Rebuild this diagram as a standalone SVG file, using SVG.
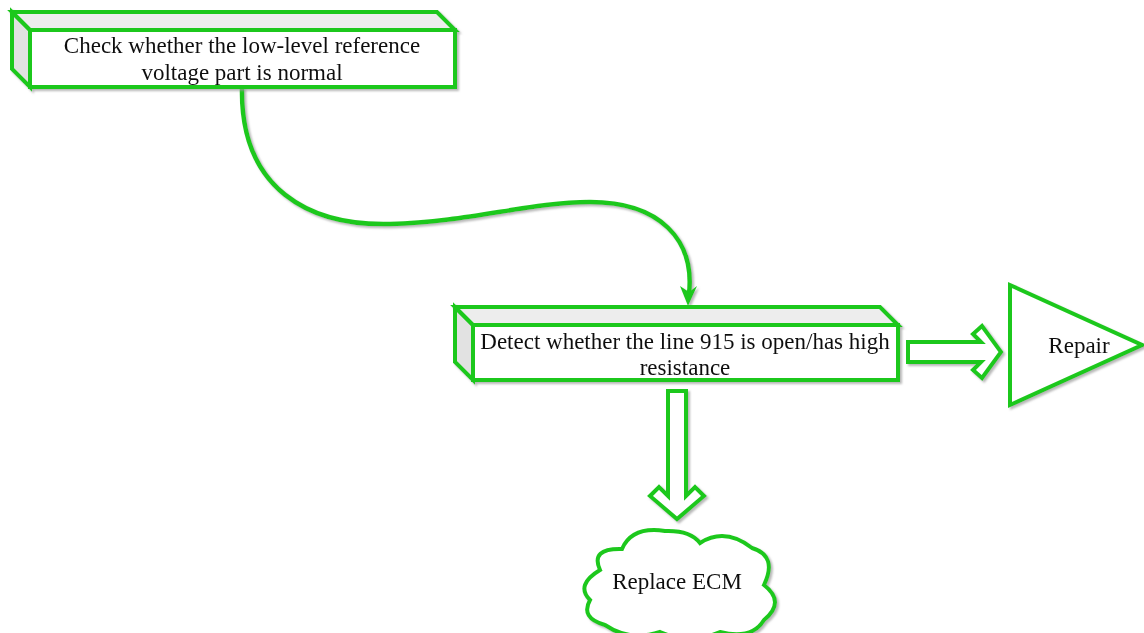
<svg xmlns="http://www.w3.org/2000/svg" width="1144" height="633" viewBox="0 0 1144 633">
<style>
.g{fill:none;stroke:#1fc81f;stroke-width:4.5;stroke-linejoin:miter}
.w{fill:#ffffff;stroke:#1fc81f;stroke-width:4;stroke-linejoin:miter}
.top{fill:#ededed;stroke:#1fc81f;stroke-width:4;stroke-linejoin:miter}
.side{fill:#e2e2e2;stroke:#1fc81f;stroke-width:4;stroke-linejoin:miter}
.t{font-family:"Liberation Serif","Times New Roman",serif;font-size:23px;fill:#111;text-anchor:middle}
</style>
<defs>
<filter id="sh" x="-10%" y="-10%" width="130%" height="130%">
<feGaussianBlur in="SourceAlpha" stdDeviation="1.2" result="b"/>
<feOffset in="b" dx="2" dy="2" result="o"/>
<feFlood flood-color="#999999" flood-opacity="0.7"/>
<feComposite in2="o" operator="in" result="s"/>
<feMerge><feMergeNode in="s"/><feMergeNode in="SourceGraphic"/></feMerge>
</filter>
</defs>

<g id="connectors" filter="url(#sh)">
<path class="g" d="M242,87 C240,190 310,226 390,224 C470,222 530,202 590,202 C660,202 695,240 689,294"/>
<path d="M680,286 L688,306 L697,286 L689,292 Z" fill="#1fc81f"/>
<polygon class="w" points="908,342 981,342 973,334 982,326 1001,352 982,378 973,370 981,362 908,362"/>
<polygon class="w" points="668,391 686,391 686,496 695,487 704,496 677,519 650,496 659,487 668,496"/>
</g>

<g id="node-check" filter="url(#sh)">
<polygon class="side" points="12,12 30,30 30,87 12,69"/>
<polygon class="top" points="12,12 437,12 455,30 30,30"/>
<rect class="w" x="30" y="30" width="425" height="57"/>
<text class="t" x="242" y="53">Check whether the low-level reference</text>
<text class="t" x="242" y="80">voltage part is normal</text>
</g>

<g id="node-detect" filter="url(#sh)">
<polygon class="side" points="455,307 473,325 473,380 455,362"/>
<polygon class="top" points="455,307 880,307 898,325 473,325"/>
<rect class="w" x="473" y="325" width="425" height="55"/>
<text class="t" x="685" y="349">Detect whether the line 915 is open/has high</text>
<text class="t" x="685" y="375">resistance</text>
</g>

<g id="node-repair" filter="url(#sh)">
<polygon class="w" points="1010,285 1142,345 1010,405"/>
<text class="t" x="1079" y="353">Repair</text>
</g>

<g id="node-ecm" filter="url(#sh)">
<path class="w" d="M600,570 Q590,548 622,549 Q632,526 665,531 Q690,530 700,543 Q725,527 752,548 Q778,556 764,585 Q786,602 764,620 Q752,640 720,632 Q690,645 660,632 Q630,642 605,625 Q580,618 590,600 Q575,585 600,570 Z"/>
<text class="t" x="677" y="589">Replace ECM</text>
</g>
</svg>
